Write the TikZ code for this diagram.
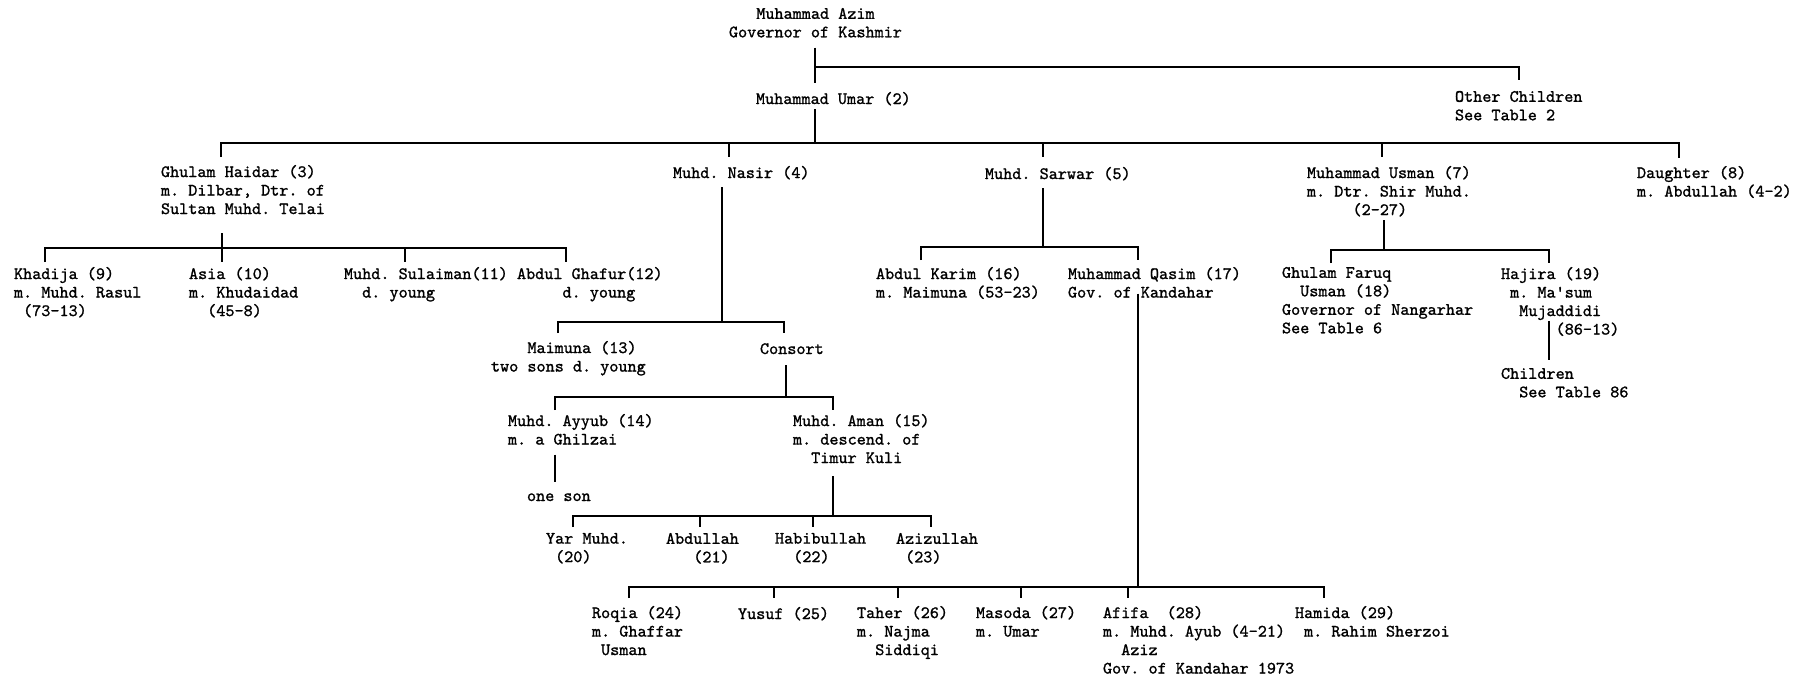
\documentclass[tikz,border=0pt]{standalone}
\usepackage{fontspec}
\usepackage{tikz}
\newfontface\famfont{lmmono10-regular.otf}[FakeBold=1.2]
\newcommand\ind[1]{\hspace*{#1\fontcharwd\font`\x}}
\begin{document}
\begin{tikzpicture}[x=0.5pt,y=-0.5pt,line width=1pt,
  person/.style={anchor=north west,align=left,inner sep=0pt,
    font=\fontsize{8.67}{9.25}\selectfont\famfont\frenchspacing,
    execute at begin node={\rule{0pt}{6.5pt}}}]
\fill[white] (0,0) rectangle (1794,676); \useasboundingbox (0,0) rectangle (1794,676);
\node[person] (azim) at (728,7) {\ind{3}Muhammad Azim\\Governor of Kashmir};
\node[person] (umar) at (755,90) {Muhammad Umar (2)};
\node[person] (other) at (1454,90) {Other Children\\See Table 2};
\node[person] (haidar) at (160,164) {Ghulam Haidar (3)\\m. Dilbar, Dtr. of\\Sultan Muhd. Telai};
\node[person] (nasir) at (672,164) {Muhd. Nasir (4)};
\node[person] (sarwar) at (984,165) {Muhd. Sarwar (5)};
\node[person] (usman) at (1306,165) {Muhammad Usman (7)\\m. Dtr. Shir Muhd.\\\ind{5}(2-27)};
\node[person] (daughter) at (1636,165) {Daughter (8)\\m. Abdullah (4-2)};
\node[person] (khadija) at (13,266) {Khadija (9)\\m. Muhd. Rasul\\\ind{1}(73-13)};
\node[person] (asia) at (188,266) {Asia (10)\\m. Khudaidad\\\ind{2}(45-8)};
\node[person] (sulaiman) at (343,266) {Muhd. Sulaiman(11)\\\ind{2}d. young};
\node[person] (ghafur) at (516,266) {Abdul Ghafur(12)\\\ind{5}d. young};
\node[person] (karim) at (875,266) {Abdul Karim (16)\\m. Maimuna (53-23)};
\node[person] (qasim) at (1067,266) {Muhammad Qasim (17)\\Gov. of Kandahar};
\node[person] (faruq) at (1281,266) {Ghulam Faruq\\\ind{2}Usman (18)\\Governor of Nangarhar\\See Table 6};
\node[person] (hajira) at (1500,266) {Hajira (19)\\\ind{1}m. Ma\textquotesingle sum\\\ind{2}Mujaddidi\\\ind{6}(86-13)};
\node[person] (children) at (1500,367) {Children\\\ind{2}See Table 86};
\node[person] (maimuna) at (490,340) {\ind{4}Maimuna (13)\\two sons d. young};
\node[person] (consort) at (759,340) {Consort};
\node[person] (ayyub) at (507,413) {Muhd. Ayyub (14)\\m. a Ghilzai};
\node[person] (aman) at (792,413) {Muhd. Aman (15)\\m. descend. of\\\ind{2}Timur Kuli};
\node[person] (oneson) at (526,487) {one son};
\node[person] (yar) at (545,532) {Yar Muhd.\\\ind{1}(20)};
\node[person] (abdullah) at (665,532) {Abdullah\\\ind{3}(21)};
\node[person] (habib) at (774,532) {Habibullah\\\ind{2}(22)};
\node[person] (aziz) at (895,532) {Azizullah\\\ind{1}(23)};
\node[person] (roqia) at (591,605) {Roqia (24)\\m. Ghaffar\\\ind{1}Usman};
\node[person] (yusuf) at (737,605) {Yusuf (25)};
\node[person] (taher) at (856,605) {Taher (26)\\m. Najma\\\ind{2}Siddiqi};
\node[person] (masoda) at (975,605) {Masoda (27)\\m. Umar};
\node[person] (afifa) at (1102,605) {Afifa\ \ (28)\\m. Muhd. Ayub (4-21)\\\ind{2}Aziz\\Gov. of Kandahar 1973};
\node[person] (hamida) at (1294,605) {Hamida (29)\\\ind{1}m. Rahim Sherzoi};
\coordinate (azimj) at (815,67); \coordinate (otherj) at (1519,80);
\draw[shorten <=4.5pt,shorten >=3.5pt] (azim.south -| azimj) -- (umar.north -| azimj); \draw (azimj) -| (otherj);
\coordinate (umarj) at (815,143); \coordinate (b1l) at (221,143); \coordinate (b1r) at (1679,143);
\draw[shorten <=1.5pt] (umar.south -| umarj) -- (umarj);
\draw[shorten <=3.5pt,shorten >=3.5pt] (haidar.north -| b1l) -- (b1l) -- (b1r) -- (daughter.north -| b1r);
\coordinate (nasird) at (729,143); \draw[shorten >=3.5pt] (nasird) -- (nasird |- nasir.north);
\coordinate (sarward) at (1043,143); \draw[shorten >=4pt] (sarward) -- (sarward |- sarwar.north);
\coordinate (usmand) at (1382,143); \draw[shorten >=4pt] (usmand) -- (usmand |- usman.north);
\coordinate (haidarj) at (222,248); \coordinate (b2l) at (45,248); \coordinate (b2r) at (566,248);
\draw[shorten <=9pt] (haidar.south -| haidarj) -- (haidarj); \draw[shorten >=2pt] (haidarj) -- (haidarj |- asia.north);
\draw[shorten <=2pt,shorten >=2pt] (khadija.north -| b2l) -- (b2l) -- (b2r) -- (ghafur.north -| b2r);
\coordinate (sulaimand) at (405,248); \draw[shorten >=2pt] (sulaimand) -- (sulaimand |- sulaiman.north);
\coordinate (nasirj) at (722,322); \coordinate (b3l) at (558,322); \coordinate (b3r) at (784,322);
\draw[shorten <=3.5pt] (nasir.south -| nasirj) -- (nasirj);
\draw[shorten <=3.5pt,shorten >=3.5pt] (maimuna.north -| b3l) -- (b3l) -- (b3r) -- (consort.north -| b3r);
\coordinate (consortj) at (786,397); \coordinate (b4l) at (555,397); \coordinate (b4r) at (833,397);
\draw[shorten <=5pt] (consort.south -| consortj) -- (consortj);
\draw[shorten <=1.5pt,shorten >=1.5pt] (ayyub.north -| b4l) -- (b4l) -- (b4r) -- (aman.north -| b4r);
\draw[shorten <=4.5pt,shorten >=2.5pt] (ayyub.south -| b4l) -- (oneson.north -| b4l);
\coordinate (amanj) at (833,516); \coordinate (b5l) at (573,516); \coordinate (b5r) at (931,516);
\draw[shorten <=6pt] (aman.south -| amanj) -- (amanj);
\draw[shorten <=2.5pt,shorten >=2.5pt] (yar.north -| b5l) -- (b5l) -- (b5r) -- (aziz.north -| b5r);
\coordinate (abdullahd) at (700,516); \draw[shorten >=2.5pt] (abdullahd) -- (abdullahd |- abdullah.north);
\coordinate (habibd) at (813,516); \draw[shorten >=2.5pt] (habibd) -- (habibd |- habib.north);
\coordinate (sarwarj) at (1043,247); \coordinate (b6l) at (921,247); \coordinate (b6r) at (1138,247);
\draw[shorten <=3.5pt] (sarwar.south -| sarwarj) -- (sarwarj);
\draw[shorten <=3pt,shorten >=3pt] (karim.north -| b6l) -- (b6l) -- (b6r) -- (qasim.north -| b6r);
\coordinate (qasimj) at (1138,587); \coordinate (b7l) at (629,587); \coordinate (b7r) at (1324,587);
\draw[shorten <=-2.5pt] (qasim.south -| qasimj) -- (qasimj);
\draw[shorten <=3.5pt,shorten >=3.5pt] (roqia.north -| b7l) -- (b7l) -- (b7r) -- (hamida.north -| b7r);
\coordinate (yusufd) at (774,587); \draw[shorten >=3.5pt] (yusufd) -- (yusufd |- yusuf.north);
\coordinate (taherd) at (898,587); \draw[shorten >=3.5pt] (taherd) -- (taherd |- taher.north);
\coordinate (masodad) at (1021,587); \draw[shorten >=3.5pt] (masodad) -- (masodad |- masoda.north);
\coordinate (afifad) at (1128,587); \draw[shorten >=3.5pt] (afifad) -- (afifad |- afifa.north);
\coordinate (usmanj) at (1384,250); \coordinate (b8l) at (1331,250); \coordinate (b8r) at (1549,250);
\draw[shorten <=1.5pt] (usman.south -| usmanj) -- (usmanj);
\draw[shorten <=1.5pt,shorten >=1.5pt] (faruq.north -| b8l) -- (b8l) -- (b8r) -- (hajira.north -| b8r);
\draw[shorten <=-8pt,shorten >=3.5pt] (hajira.south -| b8r) -- (children.north -| b8r);
\end{tikzpicture}
\end{document}
